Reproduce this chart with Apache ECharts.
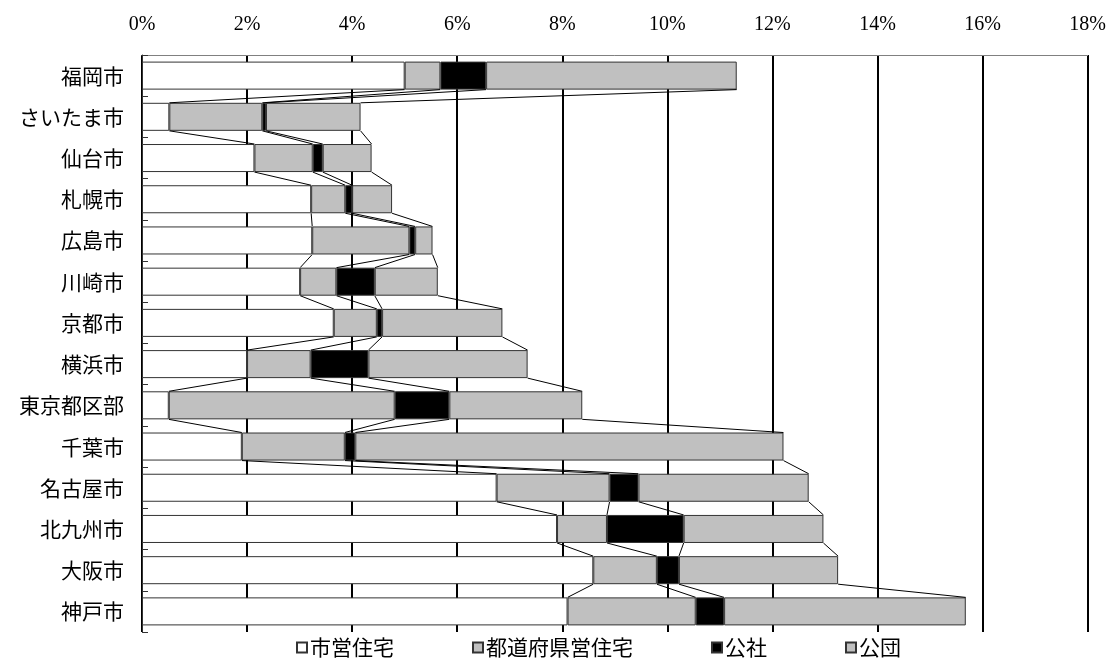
<!DOCTYPE html>
<html>
<head>
<meta charset="utf-8">
<script src="https://cdn.jsdelivr.net/npm/echarts@6/dist/echarts.min.js"></script>
<style>
  html, body { margin: 0; padding: 0; background: #fff; }
  #chart { width: 1109px; height: 665px; }
</style>
</head>
<body>
<div id="chart"></div>
<script>
// 政令指定都市別 公的借家の割合（%）
const cities = ['福岡市', 'さいたま市', '仙台市', '札幌市', '広島市', '川崎市', '京都市',
  '横浜市', '東京都区部', '千葉市', '名古屋市', '北九州市', '大阪市', '神戸市'];

const cityHousing   = [5.00, 0.52, 2.14, 3.22, 3.24, 3.01, 3.65, 2.00, 0.51, 1.90, 6.75, 7.90, 8.59, 8.10]; // 市営住宅
const prefHousing   = [0.68, 1.77, 1.11, 0.65, 1.85, 0.69, 0.82, 1.21, 4.30, 1.96, 2.15, 0.95, 1.21, 2.44]; // 都道府県営住宅
const corpHousing   = [0.87, 0.07, 0.19, 0.13, 0.11, 0.73, 0.10, 1.10, 1.04, 0.20, 0.55, 1.46, 0.42, 0.54]; // 公社
const publicHousing = [4.77, 1.80, 0.93, 0.76, 0.33, 1.20, 2.29, 3.03, 2.53, 8.15, 3.24, 2.66, 3.03, 4.60]; // 公団

const seriesNames = ['市営住宅', '都道府県営住宅', '公社', '公団'];
const seriesColors = ['#ffffff', '#c0c0c0', '#000000', '#c0c0c0'];
const xTicks = { min: 0, max: 18, interval: 2 };

const stacks = [cityHousing, prefHousing, corpHousing, publicHousing];
// running totals: right edge of each segment per city
const cumulative = stacks.map((_, k) =>
  cities.map((_, i) => stacks.slice(0, k + 1).reduce((s, arr) => s + arr[i], 0)));

const GAP = 0.32;
const cjkFont = '"Noto Sans CJK JP", "Noto Sans", sans-serif';

const chart = echarts.init(document.getElementById('chart'), null, { renderer: 'canvas' });

const barSeries = seriesNames.map((name, k) => ({
  name,
  type: 'bar',
  stack: 'total',
  data: stacks[k],
  barCategoryGap: (GAP * 100) + '%',
  itemStyle: { color: seriesColors[k], borderColor: '#333', borderWidth: 1 },
  emphasis: { disabled: true },
  z: 2
}));

// Series lines connecting segment ends between neighbouring bars
const connectorSeries = {
  type: 'custom',
  silent: true,
  z: 5,
  data: cities.slice(0, -1).map((_, i) => [0, i]),
  encode: { x: 0, y: 1 },
  renderItem(params, api) {
    const i = params.dataIndex;
    const band = api.size([0, 1])[1];
    const half = band * (1 - GAP) / 2;
    const children = cumulative.map(cum => {
      const p1 = api.coord([cum[i], i]);
      const p2 = api.coord([cum[i + 1], i + 1]);
      return {
        type: 'line',
        shape: { x1: p1[0], y1: p1[1] + half, x2: p2[0], y2: p2[1] - half },
        style: { stroke: '#000', lineWidth: 1 }
      };
    });
    return { type: 'group', children };
  }
};

chart.setOption({
  animation: false,
  backgroundColor: '#fff',
  grid: { left: 142, right: 20, top: 55, bottom: 33 },
  xAxis: {
    type: 'value',
    position: 'top',
    min: xTicks.min, max: xTicks.max, interval: xTicks.interval,
    axisLine: { show: true, lineStyle: { color: '#808080', width: 1 } },
    axisTick: { show: false },
    axisLabel: {
      formatter: '{value}%',
      margin: 20,
      color: '#000',
      fontSize: 20,
      fontFamily: '"Liberation Serif", "DejaVu Serif", serif'
    },
    splitLine: { show: true, lineStyle: { color: '#000', width: 2 } }
  },
  yAxis: {
    type: 'category',
    inverse: true,
    data: cities,
    axisLine: { show: true, lineStyle: { color: '#333', width: 1 } },
    axisTick: { show: true, inside: true, length: 6, lineStyle: { color: '#333' } },
    axisLabel: { margin: 18, color: '#000', fontSize: 21, fontFamily: cjkFont }
  },
  legend: {
    data: seriesNames,
    left: 291,
    bottom: 2,
    icon: 'rect',
    itemWidth: 10,
    itemHeight: 10,
    itemGap: 78,
    textStyle: { color: '#000', fontSize: 21, fontFamily: cjkFont, padding: [0, 0, 0, -2] },
    selectedMode: false
  },
  series: [...barSeries, connectorSeries]
});
</script>
</body>
</html>
